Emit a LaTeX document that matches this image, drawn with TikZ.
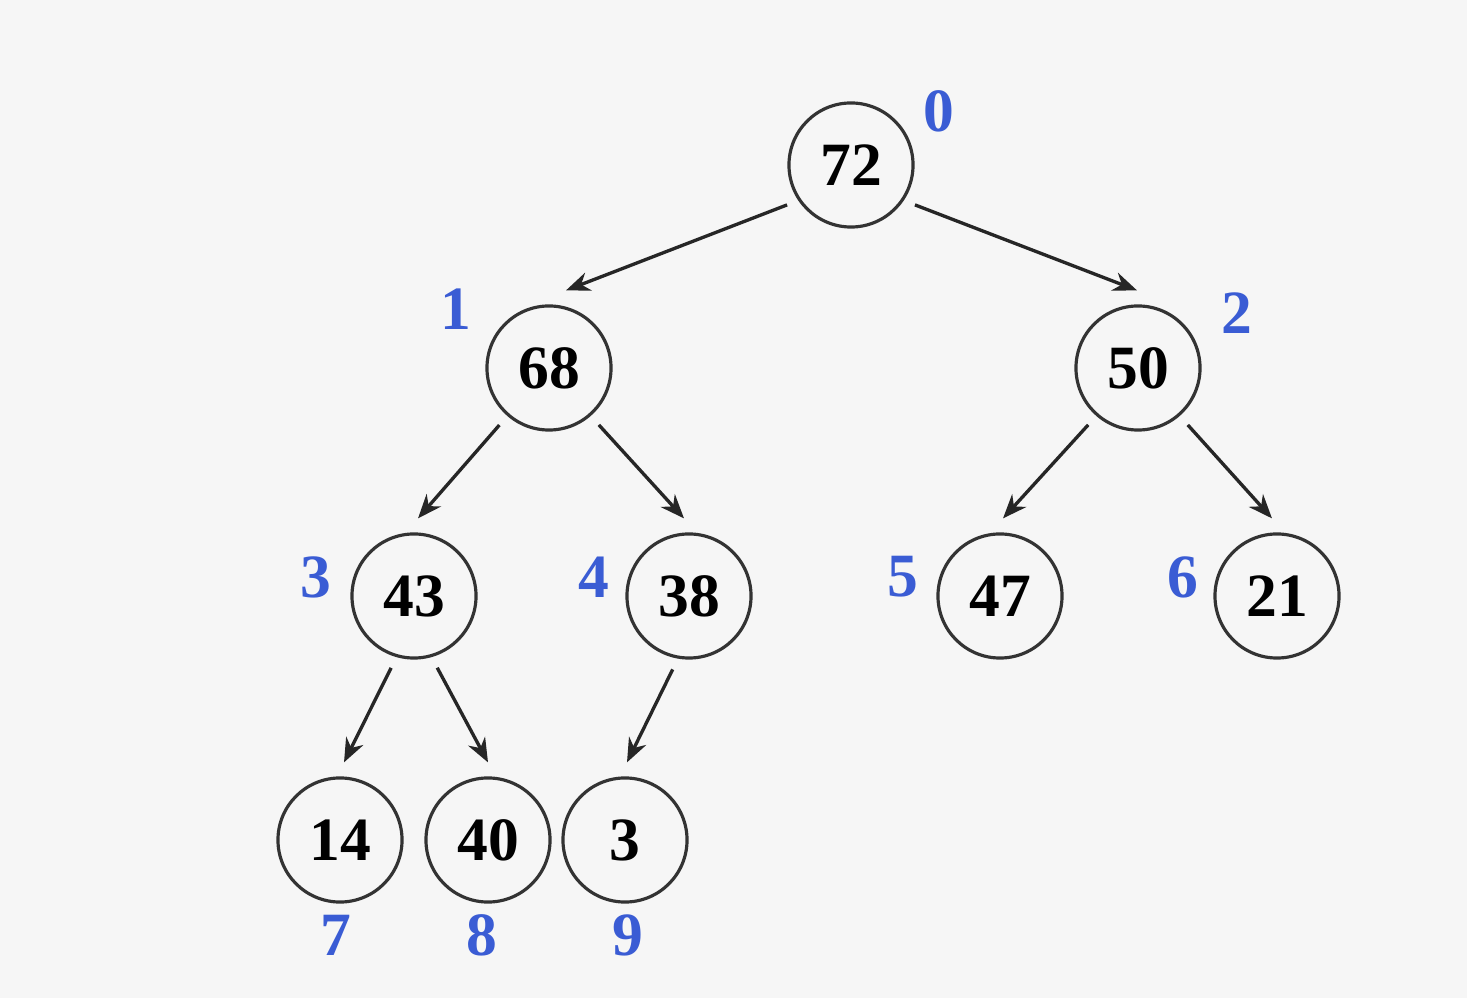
\documentclass[tikz,border=0pt]{standalone}
\usepackage{fontspec}
\setmainfont{Liberation Serif}
\usetikzlibrary{arrows.meta}

\definecolor{bgcol}{HTML}{F6F6F6}
\definecolor{idxblue}{HTML}{3A5CD4}

\tikzset{
  heapnode/.style={circle, draw=black!80, line width=0.9pt, minimum size=1.24cm,
    inner sep=0pt, font=\fontsize{17.5}{18}\selectfont\bfseries},
  idxlabel/.style={text=idxblue, inner sep=0pt, font=\fontsize{17.5}{18}\selectfont\bfseries},
  heaparrow/.style={line width=0.95pt, draw=black!85,
    -{Stealth[length=0.24cm, width=0.19cm]}, shorten <=0.12cm}
}

\begin{document}
\begin{tikzpicture}[x=0.01cm, y=-0.01cm]
  \fill[bgcol] (0, 0) rectangle (1467, 998);
  \useasboundingbox (0, 0) rectangle (1467, 998);

  % heap values
  \foreach \name/\x/\y/\val in {n0/851/165/72, n1/549/368/68, n2/1138/368/50,
      n3/414/596/43, n4/689/596/38, n5/1000/596/47, n6/1277/596/21,
      n7/340/840/14, n8/488/840/40, n9/625/840/3}
    \node[heapnode] (\name) at (\x, \y) {\val};

  % array indices
  \foreach \name/\x/\y/\idx in {i0/939/111/0, i1/456/309/1, i2/1237/313/2,
      i3/316/577/3, i4/594/577/4, i5/903/577/5, i6/1183/577/6,
      i7/336/935/7, i8/482/935/8, i9/628/935/9}
    \node[idxlabel] (\name) at (\x, \y) {\idx};

  % parent -> child
  \foreach \a/\ang/\b/\dx in {n0/214/n1/17, n0/326/n2/-1, n1/229/n3/4, n1/311/n4/-5,
      n2/229/n5/3, n2/311/n6/-5, n3/254/n7/4, n3/286/n8/0, n4/260/n9/2}
    \draw[heaparrow] (\a.\ang) -- ([shift={(\dx,-14)}]\b.north);
\end{tikzpicture}
\end{document}
